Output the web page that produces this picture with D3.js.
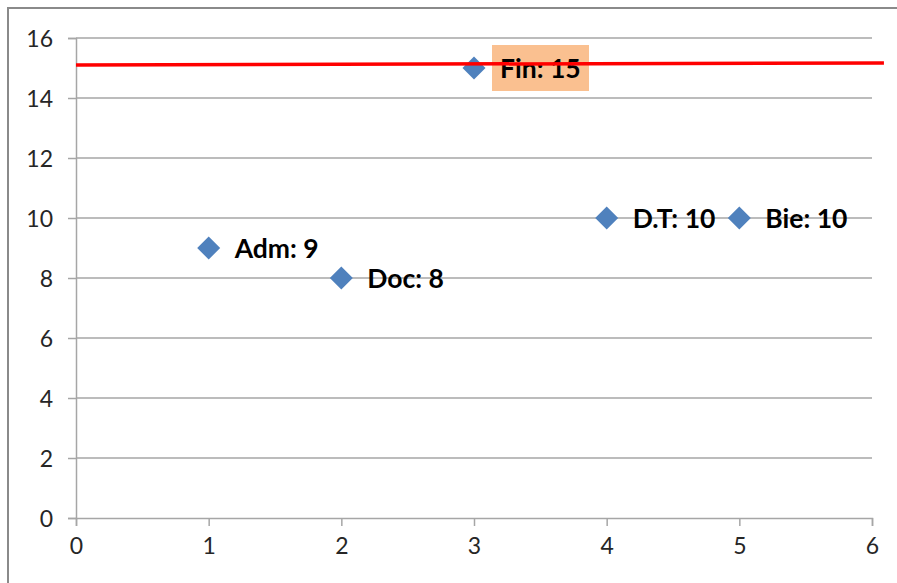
<!DOCTYPE html>
<meta charset="utf-8">
<style>
  body { margin: 0; background: #fff; }
  .chart text { font-family: Lato, "Open Sans", sans-serif; }
  .tick-label { font-size: 23px; fill: #262626; }
  .pt-label { font-size: 26.5px; font-weight: bold; fill: #000; }
</style>
<body>
<svg class="chart"></svg>
<script src="https://d3js.org/d3.v7.min.js"></script>
<script>
  // values
  var names = ["Adm", "Doc", "Fin", "D.T", "Bie"];
  var xVals = [1, 2, 3, 4, 5];
  var yVals = [9, 8, 15, 10, 10];
  var xTicks = [0, 1, 2, 3, 4, 5, 6];
  var yTicks = [0, 2, 4, 6, 8, 10, 12, 14, 16];
  var highlight = "Fin";
  // red reference line, ends in data units
  var refX = [0, 6.09];
  var refY = [15.1, 15.17];

  var w = 897, h = 583;
  var pLeft = 76, pRight = 872, pTop = 38, pBottom = 518;

  var svg = d3.select(".chart")
      .attr("width", w)
      .attr("height", h);

  // outer chart border (cut by the page edges)
  svg.append("rect")
      .attr("x", 8).attr("y", 8)
      .attr("width", 1000).attr("height", 1000)
      .attr("fill", "none")
      .attr("stroke", "#8a8a8a")
      .attr("stroke-width", 2);

  var x = d3.scaleLinear().domain([0, 6]).range([pLeft, pRight]);
  var y = d3.scaleLinear().domain([0, 16]).range([pBottom, pTop]);

  // horizontal gridlines
  svg.append("g").selectAll("line")
      .data(yTicks.filter(function (d) { return d > 0; }))
      .enter().append("line")
      .attr("x1", pLeft).attr("x2", pRight)
      .attr("y1", function (d) { return y(d); })
      .attr("y2", function (d) { return y(d); })
      .attr("stroke", "#a6a6a6")
      .attr("stroke-width", 1.5);

  // y axis
  var yAxis = svg.append("g")
      .attr("transform", "translate(" + pLeft + ",0)")
      .call(d3.axisLeft(y).tickValues(yTicks).tickFormat(d3.format("d")).tickSize(8).tickPadding(15));
  // x axis
  var xAxis = svg.append("g")
      .attr("transform", "translate(0," + pBottom + ")")
      .call(d3.axisBottom(x).tickValues(xTicks).tickFormat(d3.format("d")).tickSize(8).tickPadding(12));

  [yAxis, xAxis].forEach(function (a) {
    a.attr("font-size", null).attr("font-family", null);
    a.select(".domain").attr("stroke", "#a6a6a6").attr("stroke-width", 1.5);
    a.selectAll(".tick line").attr("stroke", "#a6a6a6").attr("stroke-width", 1.5);
    a.selectAll(".tick text").attr("class", "tick-label");
  });
  yAxis.selectAll(".tick text").attr("dy", "0.36em");

  var pts = names.map(function (n, i) { return { name: n, x: xVals[i], y: yVals[i] }; });

  // label background for the highlighted point
  var hl = pts.filter(function (d) { return d.name === highlight; });
  svg.append("g").selectAll("rect")
      .data(hl)
      .enter().append("rect")
      .attr("x", function (d) { return x(d.x) + 18; })
      .attr("y", function (d) { return y(d.y) - 23; })
      .attr("width", 97)
      .attr("height", 46)
      .attr("fill", "#fac090");

  // markers
  var diamond = "M0,-11.5L11.5,0L0,11.5L-11.5,0Z";
  svg.append("g").selectAll("path")
      .data(pts)
      .enter().append("path")
      .attr("d", diamond)
      .attr("transform", function (d) { return "translate(" + x(d.x) + "," + y(d.y) + ")"; })
      .attr("fill", "#4f81bd");

  // data labels
  svg.append("g").selectAll("text")
      .data(pts)
      .enter().append("text")
      .attr("class", "pt-label")
      .attr("x", function (d) { return x(d.x) + 26; })
      .attr("y", function (d) { return y(d.y); })
      .attr("dy", "0.36em")
      .text(function (d) { return d.name + ": " + d.y; });

  // red line
  var line = d3.line()
      .x(function (d) { return x(d[0]); })
      .y(function (d) { return y(d[1]); });
  svg.append("path")
      .datum(refX.map(function (v, i) { return [v, refY[i]]; }))
      .attr("d", line)
      .attr("fill", "none")
      .attr("stroke", "#ff0000")
      .attr("stroke-width", 3.5);
</script>
</body>
